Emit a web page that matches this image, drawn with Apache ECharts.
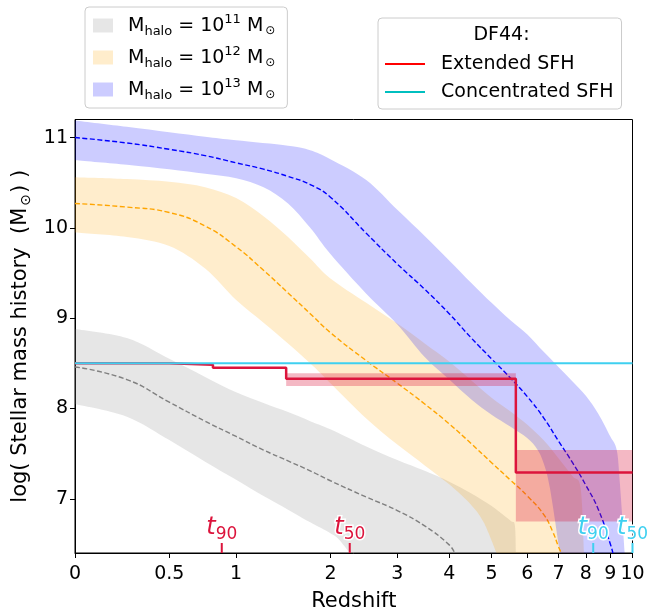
<!DOCTYPE html>
<html><head><meta charset="utf-8">
<script src="https://cdn.jsdelivr.net/npm/echarts@6/dist/echarts.min.js"></script>
<style>html,body{margin:0;padding:0;background:#fff}#c{width:648px;height:610px}</style>
</head><body><div id="c"></div>
<script>
// ---------- data (x = redshift z, y = log stellar mass) ----------
const xTickZ = [0, 0.5, 1, 2, 3, 4, 5, 6, 7, 8, 9, 10];
const yTicks = [7, 8, 9, 10, 11];

// Mhalo = 1e11 (gray)
const grayHiZ = [0, 0.25, 0.5, 0.75, 1, 1.25, 1.5, 1.75, 2, 2.5, 3, 3.5, 4, 4.5, 5, 5.5, 5.63, 5.66];
const grayHi  = [8.88, 8.78, 8.55, 8.35, 8.18, 8.06, 7.96, 7.86, 7.77, 7.58, 7.43, 7.31, 7.19, 7.06, 6.92, 6.76, 6.71, 6.40];
const grayLoZ = [0, 0.25, 0.5, 0.75, 1, 1.25, 1.5, 1.75, 2, 2.1, 2.26];
const grayLo  = [8.05, 7.91, 7.65, 7.41, 7.21, 7.03, 6.88, 6.74, 6.62, 6.56, 6.40];
const grayMedZ = [0, 0.25, 0.5, 0.75, 1, 1.25, 1.5, 1.75, 2, 2.5, 3, 3.5, 4, 4.12];
const grayMed  = [8.46, 8.32, 8.07, 7.86, 7.69, 7.54, 7.42, 7.31, 7.20, 7.02, 6.87, 6.70, 6.49, 6.40];

// Mhalo = 1e12 (orange)
const orHiZ = [0, 0.25, 0.5, 0.75, 1, 1.25, 1.5, 1.75, 2, 2.5, 3, 3.5, 4, 4.5, 5, 5.5, 6, 6.5, 7, 7.5, 7.8, 7.93];
const orHi  = [10.56, 10.54, 10.51, 10.45, 10.33, 10.13, 9.90, 9.66, 9.44, 9.17, 8.94, 8.72, 8.52, 8.31, 8.12, 7.97, 7.82, 7.65, 7.45, 7.25, 7.12, 6.40];
const orLoZ = [0, 0.25, 0.5, 0.75, 1, 1.25, 1.5, 1.75, 2, 2.5, 3, 3.5, 4, 4.5, 4.8, 5.13];
const orLo  = [9.95, 9.90, 9.80, 9.55, 9.20, 8.95, 8.72, 8.50, 8.28, 7.89, 7.60, 7.37, 7.16, 6.93, 6.74, 6.40];
const orMedZ = [0, 0.25, 0.5, 0.75, 1, 1.25, 1.5, 1.75, 2, 2.5, 3, 3.5, 4, 4.5, 5, 5.5, 6, 6.5, 6.8, 7, 7.1];
const orMed  = [10.27, 10.23, 10.17, 10.02, 9.79, 9.53, 9.28, 9.05, 8.84, 8.53, 8.28, 8.05, 7.83, 7.61, 7.40, 7.21, 7.03, 6.83, 6.64, 6.47, 6.40];

// Mhalo = 1e13 (blue)
const blHiZ = [0, 0.25, 0.5, 0.75, 1, 1.5, 1.75, 2, 2.5, 3, 3.5, 4, 4.5, 5, 5.5, 6, 6.5, 7, 7.5, 8, 8.5, 9, 9.28, 9.42, 9.64];
const blHi  = [11.19, 11.12, 11.06, 11.01, 10.97, 10.91, 10.86, 10.76, 10.53, 10.20, 9.91, 9.64, 9.39, 9.17, 8.98, 8.82, 8.63, 8.46, 8.30, 8.14, 7.94, 7.69, 7.54, 7.17, 6.40];
const blLoZ = [0, 0.25, 0.5, 0.75, 1, 1.25, 1.5, 1.75, 2, 2.5, 3, 3.5, 4, 4.5, 5, 5.5, 6, 6.3, 6.5, 6.71, 7.05];
const blLo  = [10.75, 10.70, 10.65, 10.60, 10.55, 10.45, 10.27, 10.00, 9.71, 9.27, 8.93, 8.57, 8.32, 8.10, 7.93, 7.80, 7.67, 7.55, 7.40, 7.12, 6.40];
const blMedZ = [0, 0.25, 0.5, 0.75, 1, 1.25, 1.5, 1.75, 2, 2.5, 3, 3.5, 4, 4.5, 5, 5.5, 6, 6.5, 7, 7.5, 8, 8.5, 9, 9.11];
const blMed  = [11.00, 10.94, 10.87, 10.80, 10.72, 10.65, 10.57, 10.48, 10.34, 9.94, 9.60, 9.32, 9.05, 8.78, 8.55, 8.34, 8.13, 7.90, 7.64, 7.40, 7.15, 6.88, 6.50, 6.40];

// DF44 extended SFH (step) and its uncertainty boxes
const stepZ    = [0, 0.5, 0.81, 1.48, 5.66, 10];
const stepMass = [8.50, 8.485, 8.45, 8.33, 7.29, 7.29];
const boxZ0 = [1.48, 5.66];
const boxZ1 = [5.66, 10];
const boxLo = [8.25, 6.75];
const boxHi = [8.39, 7.54];

// DF44 concentrated SFH
const concZ    = [0, 10];
const concMass = [8.50, 8.50];

// t90 / t50 markers
const markZ     = [0.88, 2.26, 8.29, 10];
const markLabel = ['90', '50', '90', '50'];
const markKind  = [0, 0, 1, 1]; // 0 extended, 1 concentrated

// ---------- helpers ----------
const lx = z => Math.log10(1 + z);
const pairs = (zs, ys) => zs.map((z, i) => [lx(z), ys[i]]);
const YMIN = 6.4, YMAX = 11.2;
const FONT = 'DejaVu Sans';
const CRIMSON = '#DC143C';
const CYAN = '#3fd0f0';

// Catmull-Rom curve segments through pixel points (assumes pen at pts[0])
function crSegs(p) {
  let d = '';
  const n = p.length;
  for (let i = 0; i < n - 1; i++) {
    const a = p[Math.max(i - 1, 0)], b = p[i], c = p[i + 1], e = p[Math.min(i + 2, n - 1)];
    const c1x = b[0] + (c[0] - a[0]) / 6, c1y = b[1] + (c[1] - a[1]) / 6;
    const c2x = c[0] - (e[0] - b[0]) / 6, c2y = c[1] - (e[1] - b[1]) / 6;
    d += ' C' + c1x.toFixed(2) + ',' + c1y.toFixed(2) + ' ' + c2x.toFixed(2) + ',' + c2y.toFixed(2) + ' ' + c[0].toFixed(2) + ',' + c[1].toFixed(2);
  }
  return d;
}

function bandSeries(name, color, hz, hy, lz, ly) {
  return {
    type: 'custom', name: name, clip: true,
    itemStyle: { color: color },
    data: [[lx(hz[0]), hy[0]]],
    renderItem: function (params, api) {
      const up = hz.map((z, i) => api.coord([lx(z), hy[i]]));
      const lo = lz.map((z, i) => api.coord([lx(z), ly[i]])).reverse();
      const d = 'M' + up[0][0] + ',' + up[0][1] + crSegs(up) +
                ' L' + lo[0][0] + ',' + lo[0][1] + crSegs(lo) + ' Z';
      return { type: 'path', shape: { pathData: d }, style: { fill: color } };
    },
    z: 2
  };
}
function medSeries(color, zs, ys) {
  return {
    type: 'line', data: pairs(zs, ys), showSymbol: false, symbol: 'none', smooth: 0.5,
    lineStyle: { color: color, width: 1.4, type: [5, 2.5] }, z: 3, silent: true
  };
}

const mhaloRich = {
  n0: { fontSize: 19, fontFamily: FONT, color: '#000', padding: [0, 0, 2, 10], verticalAlign: 'bottom' },
  n:  { fontSize: 19, fontFamily: FONT, color: '#000', padding: [0, 0, 2, 0], verticalAlign: 'bottom' },
  sub:{ fontSize: 13, fontFamily: FONT, color: '#000', padding: [0, 0, 0, 0], verticalAlign: 'bottom' },
  sup:{ fontSize: 13, fontFamily: FONT, color: '#000', padding: [0, 0, 12, 0], verticalAlign: 'bottom' },
  od: { fontSize: 12, fontFamily: FONT, color: '#000', padding: [0, 0, 1, 2], verticalAlign: 'bottom' }
};
const mhaloExp = { 'Mh11': '11', 'Mh12': '12', 'Mh13': '13' };

const option = {
  animation: false,
  backgroundColor: '#fff',
  grid: { left: 75, right: 15.5, top: 119.5, bottom: 57, show: true, borderColor: '#000', borderWidth: 1,
          backgroundColor: 'transparent', containLabel: false, outerBoundsMode: 'none' },
  xAxis: {
    type: 'value', min: 0, max: lx(10),
    name: 'Redshift', nameLocation: 'middle', nameGap: 38,
    nameTextStyle: { fontSize: 21, fontFamily: FONT, color: '#000' },
    axisLine: { show: true, onZero: false, lineStyle: { color: '#000', width: 1 } },
    axisTick: { show: true, customValues: xTickZ.map(lx), length: 5, lineStyle: { color: '#000', width: 1 } },
    axisLabel: {
      customValues: xTickZ.map(lx), fontSize: 19, fontFamily: FONT, color: '#000', margin: 12,
      formatter: function (v) {
        const z = Math.pow(10, v) - 1;
        let best = xTickZ[0];
        xTickZ.forEach(t => { if (Math.abs(t - z) < Math.abs(best - z)) best = t; });
        return String(best);
      }
    },
    splitLine: { show: false }
  },
  yAxis: {
    type: 'value', min: YMIN, max: YMAX,
    name: '{a|log( Stellar mass history  (M}{b|⊙}{a|) )}', nameLocation: 'middle', nameGap: 28,
    nameTextStyle: { rich: {
      a: { fontSize: 21, fontFamily: FONT, color: '#000', padding: [0, 0, 2, 0], verticalAlign: 'bottom' },
      b: { fontSize: 14, fontFamily: FONT, color: '#000', padding: [0, 1, 0, 2], verticalAlign: 'bottom' }
    } },
    axisLine: { show: true, onZero: false, lineStyle: { color: '#000', width: 1 } },
    axisTick: { show: true, customValues: yTicks, length: 5, lineStyle: { color: '#000', width: 1 } },
    axisLabel: { customValues: yTicks, fontSize: 19, fontFamily: FONT, color: '#000', margin: 7 },
    splitLine: { show: false }
  },
  legend: [
    {
      orient: 'vertical', left: 85, top: 7,
      padding: [6, 12, 6, 8], itemGap: 7, itemWidth: 20, itemHeight: 14,
      backgroundColor: 'rgba(255,255,255,0.8)', borderColor: '#cccccc', borderWidth: 1, borderRadius: 4,
      data: [
        { name: 'Mh11', icon: 'rect', itemStyle: { color: 'rgba(128,128,128,0.2)' } },
        { name: 'Mh12', icon: 'rect', itemStyle: { color: 'rgba(255,165,0,0.2)' } },
        { name: 'Mh13', icon: 'rect', itemStyle: { color: 'rgba(0,0,255,0.2)' } }
      ],
      formatter: function (name) {
        return '{n0|M}{sub|halo}{n| = 10}{sup|' + mhaloExp[name] + '}{n| M}{od|⊙}';
      },
      textStyle: { rich: mhaloRich },
      selectedMode: false
    },
    {
      orient: 'vertical', left: 378, top: 18,
      padding: [34, 8, 5, 7], itemGap: 4, itemWidth: 40, itemHeight: 2,
      backgroundColor: 'rgba(255,255,255,0.8)', borderColor: '#cccccc', borderWidth: 1, borderRadius: 4,
      data: [
        { name: 'Extended SFH', icon: 'rect', itemStyle: { color: '#ff0000' } },
        { name: 'Concentrated SFH', icon: 'rect', itemStyle: { color: '#00bfbf' } }
      ],
      textStyle: { fontSize: 19, fontFamily: FONT, color: '#000', lineHeight: 24, padding: [0, 0, 0, 11] },
      selectedMode: false
    }
  ],
  graphic: [
    { type: 'text', x: 501.5, y: 35, z: 100,
      style: { text: 'DF44:', fontSize: 19, fontFamily: FONT, fill: '#000', align: 'center', verticalAlign: 'middle' } }
  ],
  series: [
    bandSeries('Mh11', 'rgba(128,128,128,0.2)', grayHiZ, grayHi, grayLoZ, grayLo),
    bandSeries('Mh12', 'rgba(255,165,0,0.2)', orHiZ, orHi, orLoZ, orLo),
    bandSeries('Mh13', 'rgba(0,0,255,0.2)', blHiZ, blHi, blLoZ, blLo),
    medSeries('#808080', grayMedZ, grayMed),
    medSeries('#FFA500', orMedZ, orMed),
    medSeries('#0000FF', blMedZ, blMed),
    {
      type: 'custom', clip: true, z: 4, silent: true,
      data: boxZ0.map((z, i) => [lx(z), boxLo[i], lx(boxZ1[i]), boxHi[i]]),
      renderItem: function (params, api) {
        const p0 = api.coord([api.value(0), api.value(1)]);
        const p1 = api.coord([api.value(2), api.value(3)]);
        return { type: 'rect', shape: { x: p0[0], y: p1[1], width: p1[0] - p0[0], height: p0[1] - p1[1] },
                 style: { fill: 'rgba(220,20,60,0.3)' } };
      }
    },
    {
      type: 'line', name: 'Extended SFH', step: 'end', data: pairs(stepZ, stepMass),
      showSymbol: false, symbol: 'none', itemStyle: { color: CRIMSON },
      lineStyle: { color: CRIMSON, width: 2.5 }, z: 5
    },
    {
      type: 'line', name: 'Concentrated SFH', data: pairs(concZ, concMass),
      showSymbol: false, symbol: 'none', itemStyle: { color: CYAN },
      lineStyle: { color: CYAN, width: 2 }, z: 6
    },
    {
      type: 'custom', clip: false, z: 7, silent: true,
      data: markZ.map((z, i) => [lx(z), YMIN]),
      renderItem: function (params, api) {
        const i = params.dataIndex;
        const col = markKind[i] === 0 ? CRIMSON : CYAN;
        const p = api.coord([api.value(0), api.value(1)]);
        const base = { fill: col, stroke: '#fff', lineWidth: 3, fontFamily: FONT, verticalAlign: 'bottom' };
        return { type: 'group', children: [
          { type: 'line', shape: { x1: p[0], y1: p[1], x2: p[0], y2: p[1] - 10 }, style: { stroke: col, lineWidth: 2 } },
          { type: 'text', x: p[0], y: p[1] - 9.5, z2: 10,
            style: {
              text: '{t|t}{s|' + markLabel[i] + '}', align: 'center', verticalAlign: 'bottom',
              fill: col, stroke: '#fff', lineWidth: 3,
              rich: {
                t: Object.assign({}, base, { fontSize: 24, fontStyle: 'italic', padding: [0, 0, 4, 0] }),
                s: Object.assign({}, base, { fontSize: 17, padding: [0, 0, 0, 0] })
              }
            } }
        ] };
      }
    }
  ]
};
const chart = echarts.init(document.getElementById('c'), null, { renderer: 'canvas' });
chart.setOption(option);
</script></body></html>
